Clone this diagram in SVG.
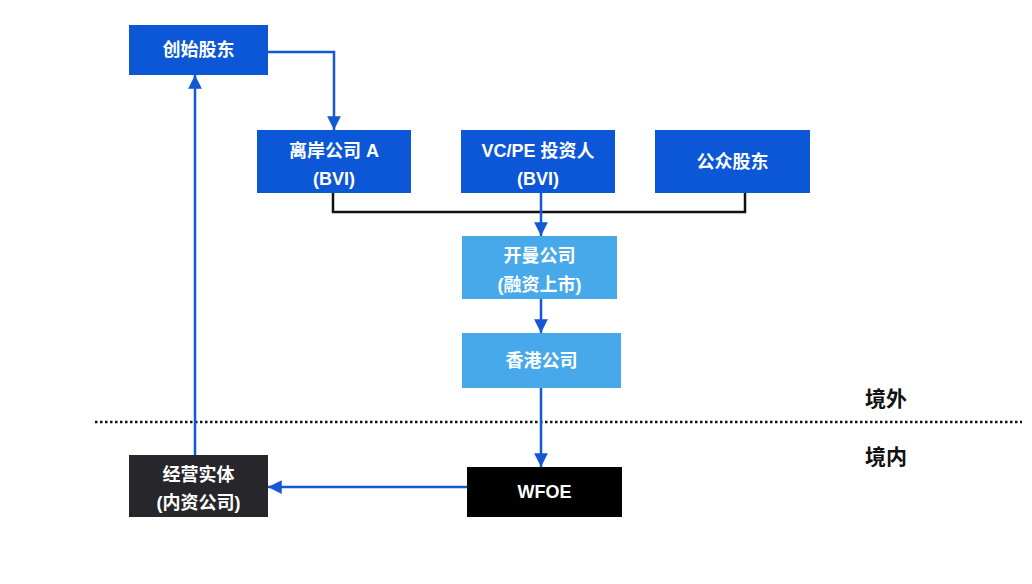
<svg xmlns="http://www.w3.org/2000/svg" width="1032" height="584" viewBox="0 0 1032 584">
<style>
.t{font-family:"Liberation Sans","Noto Sans CJK SC",sans-serif;font-weight:bold;font-size:18px;fill:#fff;text-anchor:middle}
.lbl{font-family:"Liberation Sans","Noto Sans CJK SC",sans-serif;font-weight:bold;font-size:21px;fill:#111;text-anchor:middle}
.dk{fill:#0b57d7}
.lt{fill:#48a9ea}
.c{fill:none;stroke:#1459d4;stroke-width:2.5}
.k{fill:none;stroke:#111;stroke-width:2.5}
</style>
<defs>
<marker id="a" viewBox="0 0 10 10" refX="10" refY="5" markerWidth="5.5" markerHeight="5.5" orient="auto" markerUnits="strokeWidth">
<path d="M0,0 L10,5 L0,10 z" fill="#1459d4"/>
</marker>
</defs>
<rect width="1032" height="584" fill="#fff"/>
<line x1="95" y1="422" x2="1022" y2="422" stroke="#111" stroke-width="2.5" stroke-dasharray="2.5,2.5"/>
<text class="lbl" x="886" y="406">境外</text>
<text class="lbl" x="886" y="464">境内</text>
<g id="connectors">
<polyline class="k" points="333,193 333,212 745,212 745,193"/>
<polyline class="c" points="268,52 334,52 334,130" marker-end="url(#a)"/>
<line class="c" x1="541" y1="193" x2="541" y2="236" marker-end="url(#a)"/>
<line class="c" x1="541" y1="299" x2="541" y2="333" marker-end="url(#a)"/>
<line class="c" x1="541" y1="388" x2="541" y2="467" marker-end="url(#a)"/>
<line class="c" x1="467" y1="487" x2="268" y2="487" marker-end="url(#a)"/>
<line class="c" x1="195" y1="455" x2="195" y2="75" marker-end="url(#a)"/>
</g>
<g id="founder"><rect class="dk" x="129" y="25" width="139" height="50"/><text class="t" x="198.5" y="56">创始股东</text></g>
<g id="offshoreA"><rect class="dk" x="257" y="130" width="154" height="63"/><text class="t" x="334" y="157">离岸公司 A</text><text class="t" x="334" y="185">(BVI)</text></g>
<g id="vcpe"><rect class="dk" x="461" y="130" width="154" height="63"/><text class="t" x="538" y="157">VC/PE 投资人</text><text class="t" x="538" y="185">(BVI)</text></g>
<g id="public"><rect class="dk" x="655" y="130" width="155" height="63"/><text class="t" x="732.5" y="168">公众股东</text></g>
<g id="cayman"><rect class="lt" x="462" y="236" width="155" height="63"/><text class="t" x="539.5" y="262">开曼公司</text><text class="t" x="539.5" y="291">(融资上市)</text></g>
<g id="hk"><rect class="lt" x="462" y="333" width="159" height="55"/><text class="t" x="541.5" y="367">香港公司</text></g>
<g id="wfoe"><rect fill="#000" x="467" y="467" width="155" height="50"/><text class="t" x="544.5" y="498">WFOE</text></g>
<g id="opco"><rect fill="#27272b" x="129" y="455" width="139" height="62"/><text class="t" x="198.5" y="481">经营实体</text><text class="t" x="198.5" y="509">(内资公司)</text></g>
</svg>
